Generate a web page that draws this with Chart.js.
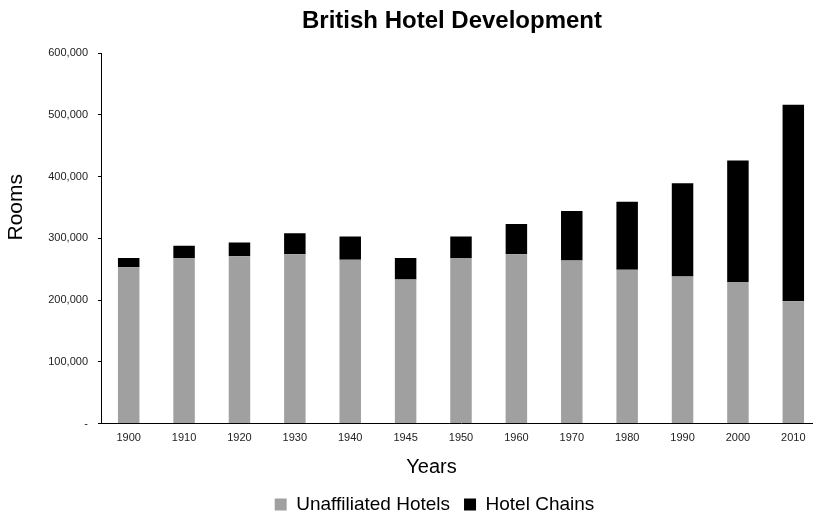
<!DOCTYPE html>
<html>
<head>
<meta charset="utf-8">
<script src="https://cdn.jsdelivr.net/npm/chart.js@4/dist/chart.umd.min.js"></script>
<style>
  html, body { margin: 0; padding: 0; overflow: hidden; background: #fff; width: 813px; height: 514px; }
  #wrap { position: absolute; left: 0; top: 0; width: 821px; height: 524px; }
</style>
</head>
<body>
<div id="wrap"><canvas id="c" width="821" height="524"></canvas></div>
<script>
// ---- data ----
const years = ['1900','1910','1920','1930','1940','1945','1950','1960','1970','1980','1990','2000','2010'];
const unaffiliatedHotels = [253000,268000,271000,274000,265000,233000,268000,274000,264000,249000,238000,229000,198000];
const hotelChains = [15000,20000,22000,34000,38000,35000,35000,49000,80000,110000,151000,197000,318000];
const seriesNames = ['Unaffiliated Hotels', 'Hotel Chains'];
const yTicks = [0,100000,200000,300000,400000,500000,600000];
const chartTitle = 'British Hotel Development';
const xTitle = 'Years';
const yTitle = 'Rooms';

const FONT = "Arial, 'Liberation Sans', sans-serif";

function patchTitle(scale, dx, dy) {
  if (scale.__patched) return;
  const orig = scale.drawTitle;
  scale.drawTitle = function () {
    const s = [this.left, this.right, this.top, this.bottom];
    this.left += dx; this.right += dx; this.top += dy; this.bottom += dy;
    orig.call(this);
    this.left = s[0]; this.right = s[1]; this.top = s[2]; this.bottom = s[3];
  };
  scale.__patched = true;
}

const shiftPlugin = {
  id: 'textShift',
  afterLayout(chart) {
    const t = chart.titleBlock;
    if (t) { t.left += 41.5; t.right += 41.5; }
    const l = chart.legend;
    if (l) { l.left += 24; l.right += 24; }
    patchTitle(chart.scales.x, -29.5, 0);
    patchTitle(chart.scales.y, 0, -31);
  }
};

new Chart(document.getElementById('c'), {
  type: 'bar',
  data: {
    labels: years,
    datasets: [
      { label: seriesNames[0], data: unaffiliatedHotels, backgroundColor: '#a0a0a0', borderWidth: 0 },
      { label: seriesNames[1], data: hotelChains, backgroundColor: '#000000', borderWidth: 0 }
    ]
  },
  options: {
    responsive: false,
    animation: false,
    events: [],
    layout: { padding: 0 },
    datasets: { bar: { barPercentage: 0.388, categoryPercentage: 1 } },
    plugins: {
      title: {
        display: true,
        text: chartTitle,
        color: '#000',
        font: { family: FONT, size: 24, weight: 'bold', lineHeight: 1.2 },
        padding: { top: 7.4, bottom: 16.8 }
      },
      legend: {
        position: 'bottom',
        labels: {
          color: '#000',
          font: { family: FONT, size: 19 },
          boxWidth: 12,
          boxHeight: 12,
          padding: 14
        }
      },
      tooltip: { enabled: false }
    },
    scales: {
      x: {
        stacked: true,
        grid: { display: false, drawTicks: false },
        border: { display: true, color: '#000', width: 1 },
        ticks: { color: '#222', font: { family: FONT, size: 11 }, padding: 8, maxRotation: 0, autoSkip: false },
        title: {
          display: true, text: xTitle, color: '#000',
          font: { family: FONT, size: 20, lineHeight: 1.2 },
          padding: { top: 2.3, bottom: 2 }
        }
      },
      y: {
        stacked: true,
        min: 0,
        max: 600000,
        afterBuildTicks(scale) { scale.ticks = yTicks.map(v => ({ value: v })); },
        afterFit(scale) { scale.width = 101; },
        grid: { display: true, drawOnChartArea: false, drawTicks: true, tickLength: 3, color: '#000' },
        border: { display: true, color: '#000', width: 1 },
        ticks: {
          color: '#222',
          font: { family: FONT, size: 11 },
          padding: 10,
          callback: (v) => v === 0 ? '-' : Number(v).toLocaleString('en-US')
        },
        title: {
          display: true, text: yTitle, color: '#000',
          font: { family: FONT, size: 21, lineHeight: 1.2 },
          padding: { top: 4, bottom: 4 }
        }
      }
    }
  },
  plugins: [shiftPlugin]
});
</script>
</body>
</html>
